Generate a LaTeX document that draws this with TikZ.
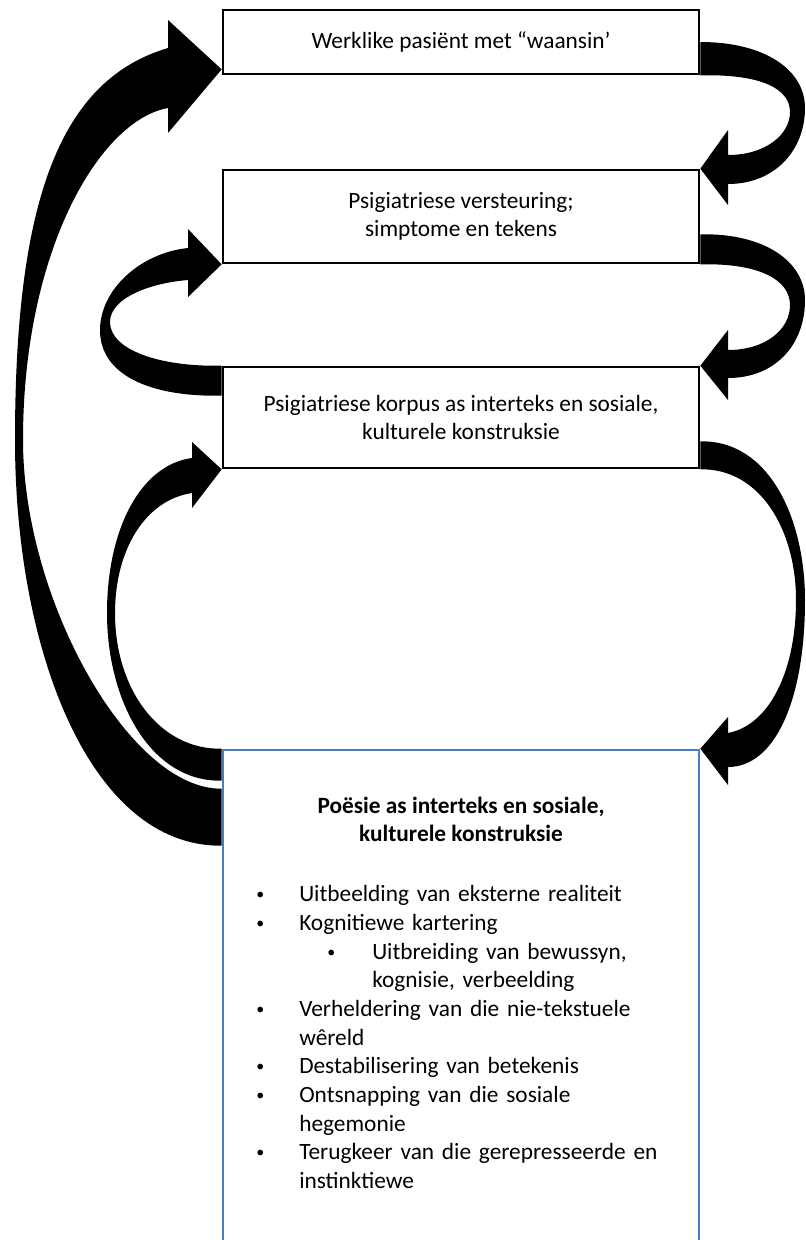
\documentclass[tikz,border=0pt]{standalone}
\usepackage{fontspec}
\setmainfont{Carlito}
\usepackage{enumitem}
\setlist{nosep}
\definecolor{boxblue}{HTML}{4A7EBB}
\newcommand{\kolpunt}{\raisebox{1.5pt}{\fontsize{12}{12}\selectfont\textbullet}}
\tikzset{
  kas/.style={draw, line width=2pt, fill=white, minimum width=357pt, align=center,
    inner sep=0pt, font=\fontsize{17.5}{21.5}\selectfont},
  lint/.style={fill=black, draw=none},
}
\begin{document}
\begin{tikzpicture}[x=0.75pt, y=-0.75pt]
    \useasboundingbox (0,0) rectangle (806,1240);

    % Boxes
    \node[kas, minimum height=48pt] (b1) at (461,42) {Werklike pasiënt met “waansin’};
    \node[kas, minimum height=69.75pt] (b2) at (461,216.5) {Psigiatriese versteuring;\\ simptome en tekens};
    \node[kas, minimum height=75.75pt] (b3) at (461,417.5) {Psigiatriese korpus as interteks en sosiale,\\ kulturele konstruksie};
    \node[draw=boxblue, line width=2pt, minimum width=357pt, minimum height=382.5pt] (b4) at (461,1005) {};

    % Poesie
    \node[font=\bfseries\fontsize{17.5}{21.5}\selectfont, align=center] (titel) at (461,819.5)
        {Poësie as interteks en sosiale,\\ kulturele konstruksie};
    \node[anchor=north west, text width=330pt, inner sep=0pt,
        font=\fontsize{17.5}{21.5}\selectfont] (lys) at (250,873) {\raggedright
        \begin{itemize}[label=\kolpunt, align=left, itemindent=0pt, labelindent=4.5pt,
            labelwidth=10pt, labelsep=22.25pt, leftmargin=36.75pt]
        \item Uitbeelding van eksterne realiteit
        \item Kognitiewe kartering
            \begin{itemize}[label=\kolpunt, align=left, itemindent=0pt, labelindent=21pt,
                labelwidth=10pt, labelsep=23.75pt, leftmargin=54.75pt]
            \item Uitbreiding van bewussyn,\\ kognisie, verbeelding
            \end{itemize}
        \item Verheldering van die nie-tekstuele\\ wêreld
        \item Destabilisering van betekenis
        \item Ontsnapping van die sosiale\\ hegemonie
        \item Terugkeer van die gerepresseerde en\\ instinktiewe
        \end{itemize}};

    % Arrows right
    \fill[lint] (b1.east) .. controls (765,42) and (805,70) .. (805,108)
        .. controls (805,150) and (775,184) .. (728,184) -- (728,205) -- (b2.north east)
        -- (728,130) -- (728,155) .. controls (765,155) and (790,135) .. (790,112)
        .. controls (790,88) and (760,74) .. (b1.south east) -- cycle;
    \fill[lint] ([yshift=22.5pt]b2.south east) .. controls (765,233) and (805,262) .. (805,300)
        .. controls (805,345) and (775,378) .. (728,378) -- (728,400) -- (b3.north east)
        -- (728,330) -- (728,350) .. controls (765,350) and (790,330) .. (790,305)
        .. controls (790,280) and (760,263) .. (b2.south east) -- cycle;
    \fill[lint] ([yshift=21pt]b3.south east) .. controls (770,440) and (805,520) .. (805,600)
        .. controls (805,700) and (775,767) .. (728,767) -- (728,785) -- (b4.north east)
        -- (728,717) -- (728,733) .. controls (770,725) and (796,670) .. (796,600)
        .. controls (796,530) and (760,468) .. (b3.south east) -- cycle;

    % Arrows left
    \fill[lint] (b3.north west) .. controls (160,367) and (110,350) .. (110,322)
        .. controls (110,298) and (150,283) .. (188,280) -- (188,297) -- (b2.south west)
        -- (188,229) -- (188,248) .. controls (140,253) and (100,290) .. (100,330)
        .. controls (100,375) and (150,397) .. ([yshift=-22.5pt]b3.north west) -- cycle;
    \fill[lint] (b4.north west) .. controls (160,750) and (115,690) .. (115,613)
        .. controls (115,550) and (145,500) .. (192,493) -- (192,508) -- (b3.south west)
        -- (192,442) -- (192,458) .. controls (140,465) and (107,530) .. (107,613)
        .. controls (107,700) and (150,782) .. ([yshift=-24pt]b4.north west) -- cycle;
    \fill[lint] ([yshift=-30pt]b4.north west) .. controls (130,790) and (23,600) .. (23,440)
        .. controls (23,250) and (100,120) .. (168,108) -- (168,133) -- ([yshift=4.5pt]b1.south west)
        -- (168,20) -- (168,48) .. controls (60,80) and (15,200) .. (15,440)
        .. controls (15,650) and (90,847) .. ([yshift=-72.75pt]b4.north west) -- cycle;

\end{tikzpicture}
\end{document}
